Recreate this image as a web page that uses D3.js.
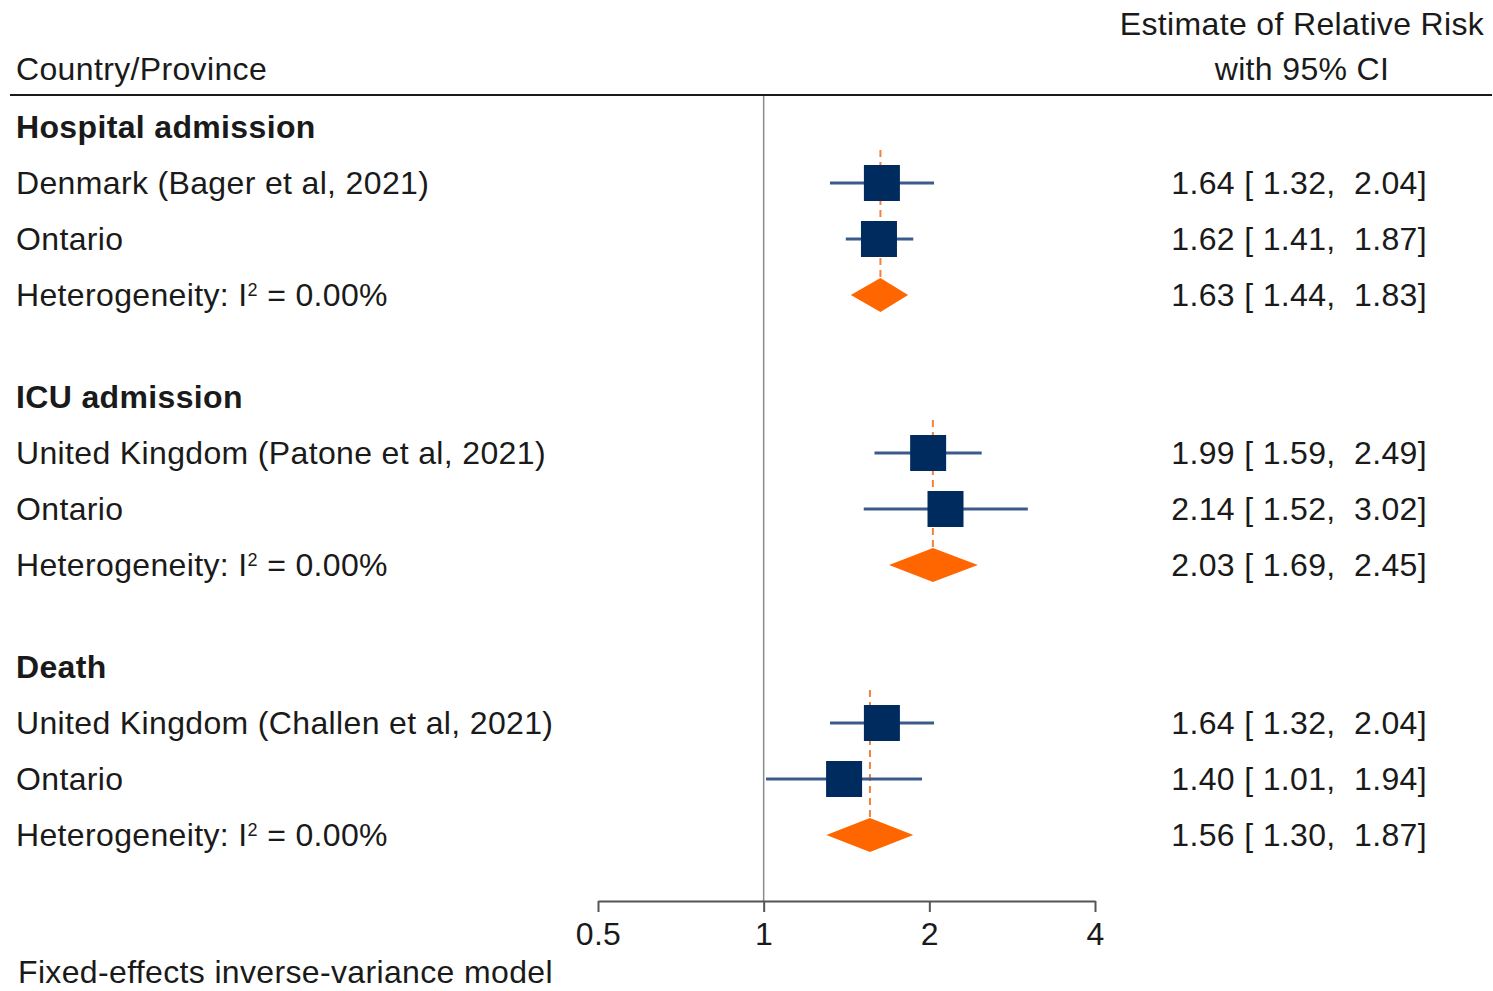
<!DOCTYPE html>
<html>
<head>
<meta charset="utf-8">
<script src="https://cdn.jsdelivr.net/npm/d3@7/dist/d3.min.js"></script>
<style>
  html, body { margin: 0; padding: 0; background: #fff; }
  svg text { font-family: "Liberation Sans", Arial, Helvetica, sans-serif; fill: #1a1a1a; white-space: pre; letter-spacing: 0.35px; }
</style>
</head>
<body>
<svg id="chart" width="1493" height="991"></svg>
<script>
// ---- data ----
const groups = ["Hospital admission", "ICU admission", "Death"];
const studyLabels = [
  "Denmark (Bager et al, 2021)", "Ontario",
  "United Kingdom (Patone et al, 2021)", "Ontario",
  "United Kingdom (Challen et al, 2021)", "Ontario"
];
const studyGroup = [0, 0, 1, 1, 2, 2];
const studyRR = [1.64, 1.62, 1.99, 2.14, 1.64, 1.40];
const studyLo = [1.32, 1.41, 1.59, 1.52, 1.32, 1.01];
const studyHi = [2.04, 1.87, 2.49, 3.02, 2.04, 1.94];
const pooledRR = [1.63, 2.03, 1.56];
const pooledLo = [1.44, 1.69, 1.30];
const pooledHi = [1.83, 2.45, 1.87];
const i2 = ["0.00", "0.00", "0.00"];
const xTicks = [0.5, 1, 2, 4];
const footnote = "Fixed-effects inverse-variance model";

// ---- layout ----
const svg = d3.select("#chart");
const x = d3.scaleLog().base(2).domain([0.5, 4]).range([598, 1095]);
const groupTop = d3.scaleLinear().domain([0, 1]).range([127, 397]); // group header centres
const rowStep = 56;
const yRow = (g, k) => groupTop(g) + k * rowStep;
const axisY = 901;
const fs = 32;
const sq = 36;
const fmt = d3.format(".2f");
const estText = (r, l, h) => `${fmt(r)} [ ${fmt(l)},  ${fmt(h)}]`;

// header
svg.append("text").attr("x", 16).attr("y", 69).attr("dy", "0.35em")
  .style("font-size", fs + "px").text("Country/Province");
svg.append("text").attr("x", 1302).attr("y", 24).attr("dy", "0.35em").attr("text-anchor", "middle")
  .style("font-size", fs + "px").text("Estimate of Relative Risk");
svg.append("text").attr("x", 1302).attr("y", 69).attr("dy", "0.35em").attr("text-anchor", "middle")
  .style("font-size", fs + "px").text("with 95% CI");
svg.append("line").attr("x1", 10).attr("x2", 1492).attr("y1", 95).attr("y2", 95)
  .attr("stroke", "#1a1a1a").attr("stroke-width", 2);

// reference line at 1
svg.append("line").attr("x1", x(1)).attr("x2", x(1)).attr("y1", 96).attr("y2", axisY)
  .attr("stroke", "#8c8c8c").attr("stroke-width", 1.5);

// axis
const axis = d3.axisBottom(x).tickValues(xTicks).tickFormat(d => d).tickSize(11).tickSizeOuter(0);
const gAxis = svg.append("g").attr("transform", `translate(0,${axisY})`).call(axis);
gAxis.select(".domain").attr("stroke", "#555").attr("stroke-width", 2);
gAxis.selectAll(".tick line").attr("stroke", "#555").attr("stroke-width", 2);
gAxis.selectAll(".tick text").style("font-size", fs + "px").attr("fill", "#1a1a1a")
  .attr("y", 44).attr("dy", 0);

// group headers
groups.forEach((gname, g) => {
  svg.append("text").attr("x", 16).attr("y", yRow(g, 0)).attr("dy", "0.35em")
    .style("font-size", fs + "px").style("font-weight", "bold").text(gname);
});

// dashed pooled lines
groups.forEach((gname, g) => {
  svg.append("line")
    .attr("x1", x(pooledRR[g])).attr("x2", x(pooledRR[g]))
    .attr("y1", yRow(g, 1) - 33).attr("y2", yRow(g, 3) - 17)
    .attr("stroke", "#f5813a").attr("stroke-width", 2).attr("stroke-dasharray", "7,5");
});

// studies
const counter = [0, 0, 0];
studyLabels.forEach((lab, i) => {
  const g = studyGroup[i];
  counter[g] += 1;
  const y = yRow(g, counter[g]);
  svg.append("text").attr("x", 16).attr("y", y).attr("dy", "0.35em")
    .style("font-size", fs + "px").text(lab);
  svg.append("line").attr("x1", x(studyLo[i])).attr("x2", x(studyHi[i]))
    .attr("y1", y).attr("y2", y).attr("stroke", "#3b5b8c").attr("stroke-width", 3);
  svg.append("rect").attr("x", x(studyRR[i]) - sq / 2).attr("y", y - sq / 2)
    .attr("width", sq).attr("height", sq).attr("fill", "#002b5e");
  svg.append("text").attr("x", 1427).attr("y", y).attr("dy", "0.35em").attr("text-anchor", "end")
    .style("font-size", fs + "px").text(estText(studyRR[i], studyLo[i], studyHi[i]));
});

// pooled rows
groups.forEach((gname, g) => {
  const y = yRow(g, 3);
  const t = svg.append("text").attr("x", 16).attr("y", y).attr("dy", "0.35em").style("font-size", fs + "px");
  t.append("tspan").text("Heterogeneity: I");
  t.append("tspan").attr("dy", "-10px").style("font-size", "18px").text("2");
  t.append("tspan").attr("dy", "10px").text(` = ${i2[g]}%`);
  const pts = [[x(pooledLo[g]), y], [x(pooledRR[g]), y - 17], [x(pooledHi[g]), y], [x(pooledRR[g]), y + 17]];
  svg.append("path").attr("d", d3.line()(pts) + "Z").attr("fill", "#ff6600");
  svg.append("text").attr("x", 1427).attr("y", y).attr("dy", "0.35em").attr("text-anchor", "end")
    .style("font-size", fs + "px").text(estText(pooledRR[g], pooledLo[g], pooledHi[g]));
});

// footnote
svg.append("text").attr("x", 18).attr("y", 972).attr("dy", "0.35em")
  .style("font-size", fs + "px").text(footnote);
</script>
</body>
</html>
